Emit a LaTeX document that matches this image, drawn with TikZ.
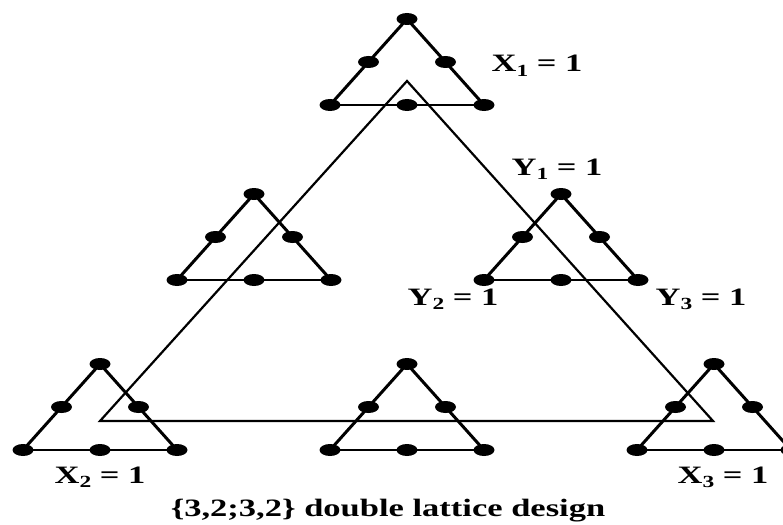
\documentclass[tikz,border=0pt]{standalone}
\usepackage{fontspec}
\setmainfont{Liberation Serif}[FakeStretch=1.38]
\usetikzlibrary{shapes.geometric}
\newcommand{\lbsub}[1]{\raisebox{-0.35ex}{\fontsize{17}{17}\selectfont #1}}
\begin{document}
\begin{tikzpicture}[x=1pt,y=-1pt,
  side/.style={line width=3pt},
  basel/.style={line width=2pt},
  bigtri/.style={line width=2.2pt, line join=miter},
  dot/.style={ellipse, fill=black, draw=none, minimum width=21pt, minimum height=12pt, inner sep=0pt},
  lab/.style={font=\bfseries\fontsize{25}{25}\selectfont, anchor=base, inner sep=0pt, text=black}]
\useasboundingbox (0,0) rectangle (783,524);
\clip (0,0) rectangle (783,524);
% big triangle
\coordinate (B1) at (407,81);
\coordinate (B2) at (100,421);
\coordinate (B3) at (713,421);
\draw[bigtri] (B1) -- (B2) -- (B3) -- cycle;
% small triangles
\foreach \n/\ax/\ay in {t/407/19, l/254/194, r/561/194, a/100/364, b/407/364, c/714/364}{
  \coordinate (\n A) at (\ax,\ay);
  \coordinate (\n L) at ({\ax-77},{\ay+86});
  \coordinate (\n R) at ({\ax+77},{\ay+86});
  \coordinate (\n ML) at ({\ax-38.5},{\ay+43});
  \coordinate (\n MR) at ({\ax+38.5},{\ay+43});
  \coordinate (\n MB) at (\ax,{\ay+86});
  \draw[side, line cap=round] (\n L) -- (\n A) -- (\n R);
  \draw[basel] (\n L) -- (\n R);
  \foreach \p in {A,L,R,ML,MR,MB}{ \node[dot] (\n\p d) at (\n\p) {}; }
}
% labels
\node[lab] (x1) at (537,72) {X\lbsub{1} = 1};
\node[lab] (y1) at (557,175) {Y\lbsub{1} = 1};
\node[lab] (y2) at (453,305) {Y\lbsub{2} = 1};
\node[lab] (y3) at (701,305) {Y\lbsub{3} = 1};
\node[lab] (x2) at (100,483) {X\lbsub{2} = 1};
\node[lab] (x3) at (723,483) {X\lbsub{3} = 1};
\node[lab] (cap) at (388,516) {\{3,2;3,2\} double lattice design};
\end{tikzpicture}
\end{document}
